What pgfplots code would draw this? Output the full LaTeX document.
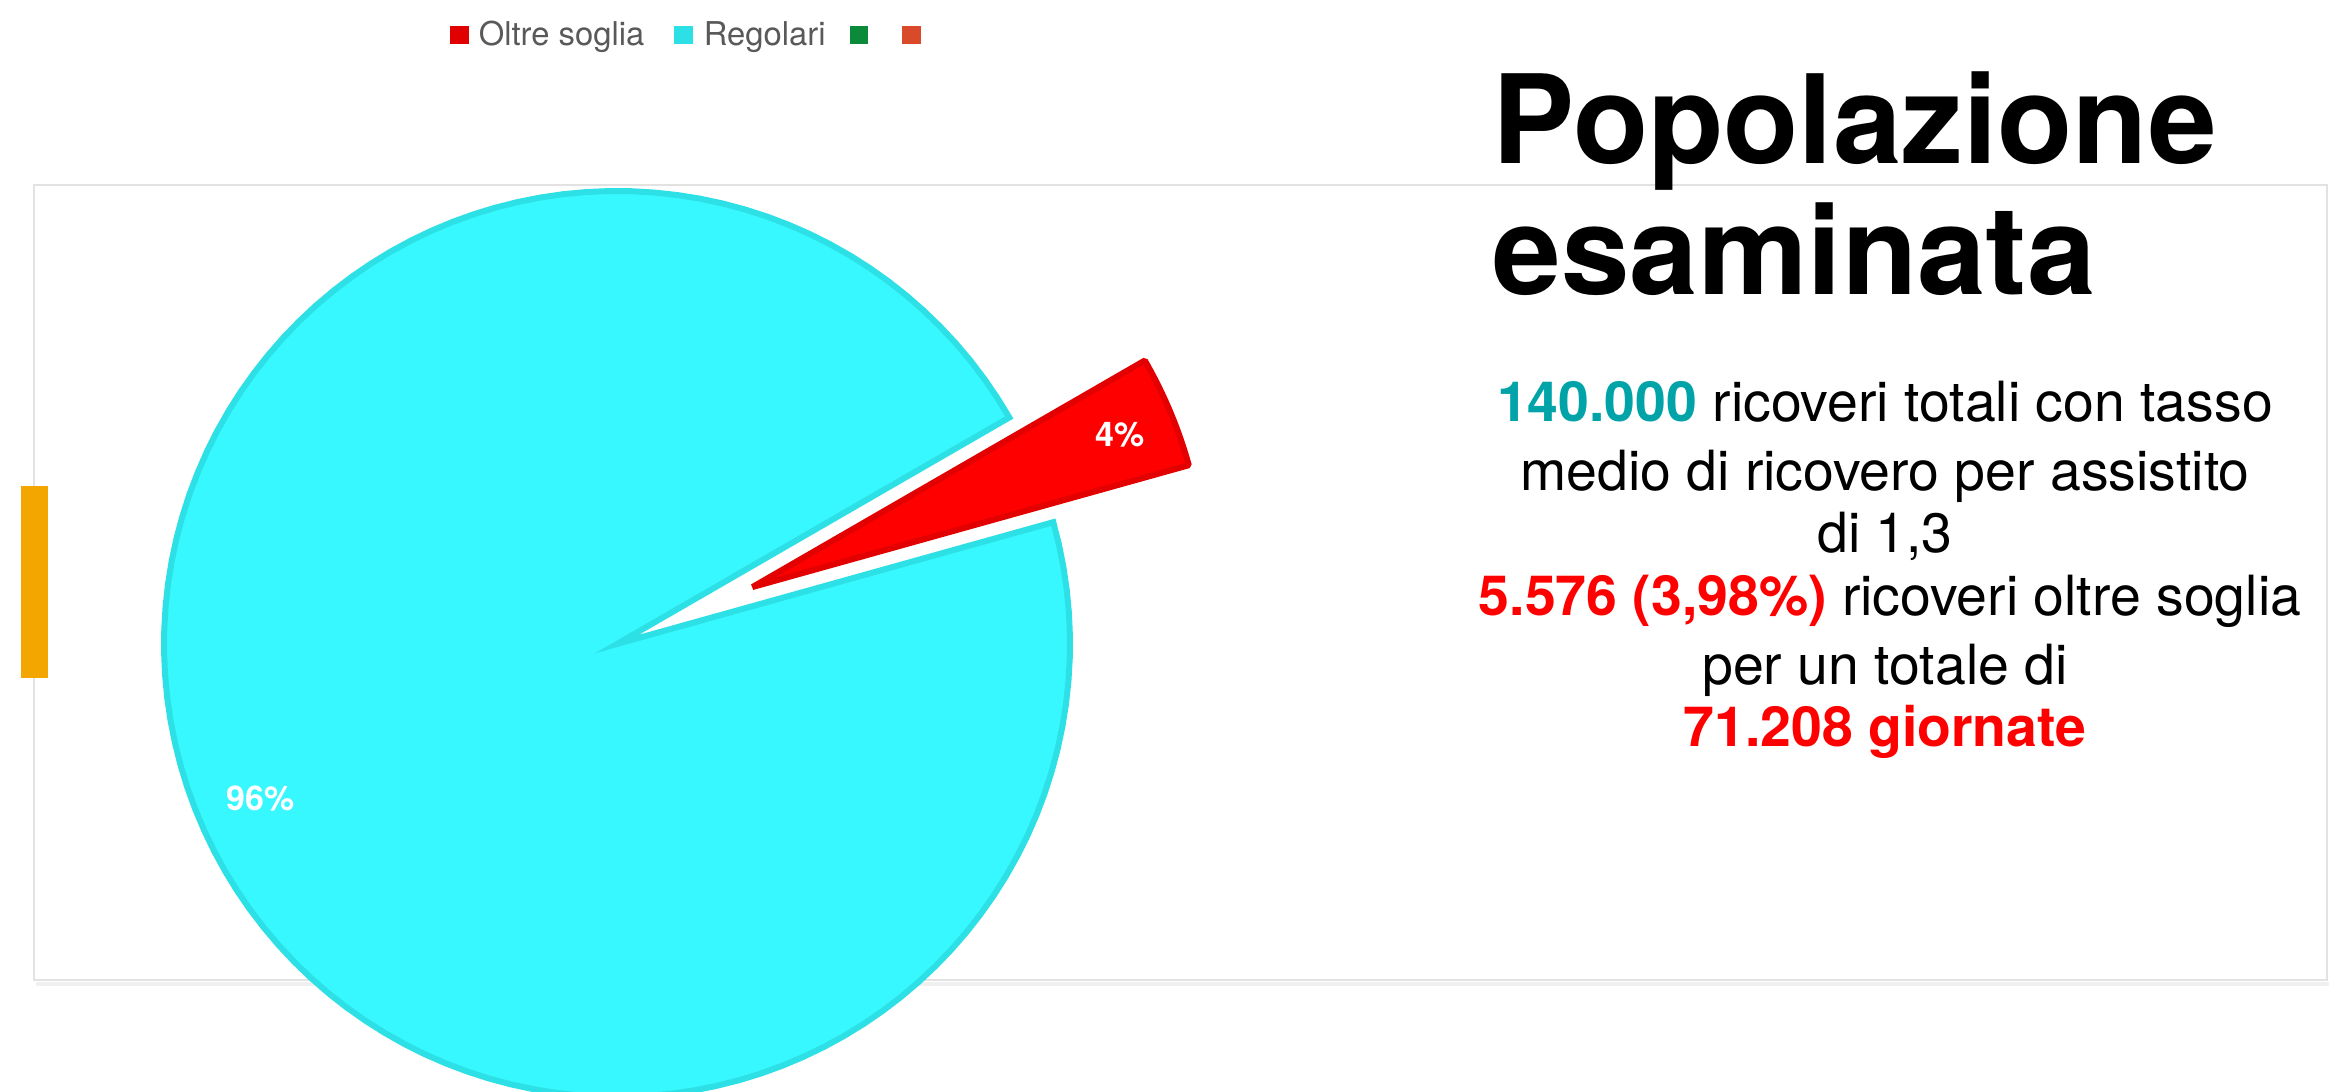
\documentclass[border=0pt]{standalone}
\usepackage{pgfplots}
\pgfplotsset{compat=1.18}
\usepackage{pgfplotstable}
\usepackage{fontspec}
\setmainfont{TeX Gyre Heros}
\definecolor{cyanfill}{HTML}{38F8FF}
\definecolor{cyanedge}{HTML}{2DE0E6}
\definecolor{redfill}{HTML}{FF0000}
\definecolor{rededge}{HTML}{E20000}
\definecolor{teal}{HTML}{00A4A8}
\definecolor{orangebar}{HTML}{F3A600}
\definecolor{framegray}{HTML}{E2E2E2}
\definecolor{leggray}{HTML}{595959}
\definecolor{leggreen}{HTML}{0B8A3A}
\definecolor{legorange}{HTML}{D84A2A}

% pie data: share in percent
\pgfplotstableread{
label value
Oltre 4
Regolari 96
}\piedata

\pgfplotstablegetelem{0}{value}\of\piedata \let\vA\pgfplotsretval
\pgfplotstablegetelem{1}{value}\of\piedata \let\vB\pgfplotsretval

\begin{document}
\begin{tikzpicture}
\path[use as bounding box] (0,0) rectangle (584pt,273pt);
\pgfmathsetmacro{\sA}{15.6}
\pgfmathsetmacro{\eA}{\sA+3.6*\vA}
\pgfmathsetmacro{\eB}{\eA+3.6*\vB}
\pgfmathsetmacro{\mA}{(\sA+\eA)/2}
\pgfmathsetmacro{\cx}{617}
\pgfmathsetmacro{\cy}{448}
\pgfmathsetmacro{\R}{453}
\pgfmathsetmacro{\ex}{\cx+147*cos(\mA)}
\pgfmathsetmacro{\ey}{\cy+147*sin(\mA)}
\begin{axis}[
  at={(0,0)}, anchor=south west,
  width=584pt, height=273pt, scale only axis,
  xmin=0, xmax=2336, ymin=0, ymax=1092,
  hide axis, clip=true,
]
% frame
\draw[framegray!50, line width=1.2pt] (axis cs:36,108) -- (axis cs:2329,108);
\draw[framegray, line width=0.5pt] (axis cs:34,112) rectangle (axis cs:2327,907);
% orange bar
\fill[orangebar] (axis cs:21,414) rectangle (axis cs:48,606);
% Regolari slice
\addplot[fill=cyanfill, draw=cyanedge, line width=1.5pt, miter limit=20, domain=\eA:\eB, samples=120, variable=\t]
  ({\cx+\R*cos(t)}, {\cy+\R*sin(t)}) -- (axis cs:\cx,\cy) -- cycle;
% Oltre soglia slice (exploded)
\addplot[fill=redfill, draw=rededge, line width=1.5pt, line join=bevel, domain=\sA:\eA, samples=20, variable=\t]
  ({\ex+\R*cos(t)}, {\ey+\R*sin(t)}) -- (axis cs:\ex,\ey) -- cycle;
% data labels
\node[white, font=\fontsize{8.5pt}{10pt}\selectfont\bfseries] at (axis cs:1120,657) {4\%};
\node[white, font=\fontsize{8.5pt}{10pt}\selectfont\bfseries] at (axis cs:261,293) {96\%};
% legend
\fill[redfill!88!black] (axis cs:450,1048) rectangle (axis cs:469,1066);
\node[anchor=base west, inner sep=0, text=leggray, font=\fontsize{8.2pt}{10pt}\selectfont] at (axis cs:478,1046) {Oltre soglia};
\fill[cyanedge] (axis cs:674,1048) rectangle (axis cs:693,1066);
\node[anchor=base west, inner sep=0, text=leggray, font=\fontsize{8.2pt}{10pt}\selectfont] at (axis cs:703,1046) {Regolari};
\fill[leggreen] (axis cs:850,1048) rectangle (axis cs:868,1066);
\fill[legorange] (axis cs:902,1048) rectangle (axis cs:921,1066);
% title
\node[anchor=base west, inner sep=0, font=\fontsize{30.8pt}{32pt}\selectfont\bfseries] at (axis cs:1492,928) {Popolazione};
\node[anchor=base west, inner sep=0, font=\fontsize{30.8pt}{32pt}\selectfont\bfseries] at (axis cs:1492,797) {esaminata};
% body text
\begin{scope}[every node/.style={anchor=base, inner sep=0, font=\fontsize{13.85pt}{16pt}\selectfont}]
\node at (axis cs:1885,670) {\textcolor{teal}{\bfseries 140.000} ricoveri totali con tasso};
\node at (axis cs:1885,601) {medio di ricovero per assistito};
\node at (axis cs:1885,539) {di 1,3};
\node at (axis cs:1890,476) {\textcolor{redfill}{\bfseries 5.576 (3,98\%)} ricoveri oltre soglia};
\node at (axis cs:1885,407) {per un totale di};
\node at (axis cs:1885,345) {\textcolor{redfill}{\bfseries 71.208 giornate}};
\end{scope}
\end{axis}
\end{tikzpicture}
\end{document}
